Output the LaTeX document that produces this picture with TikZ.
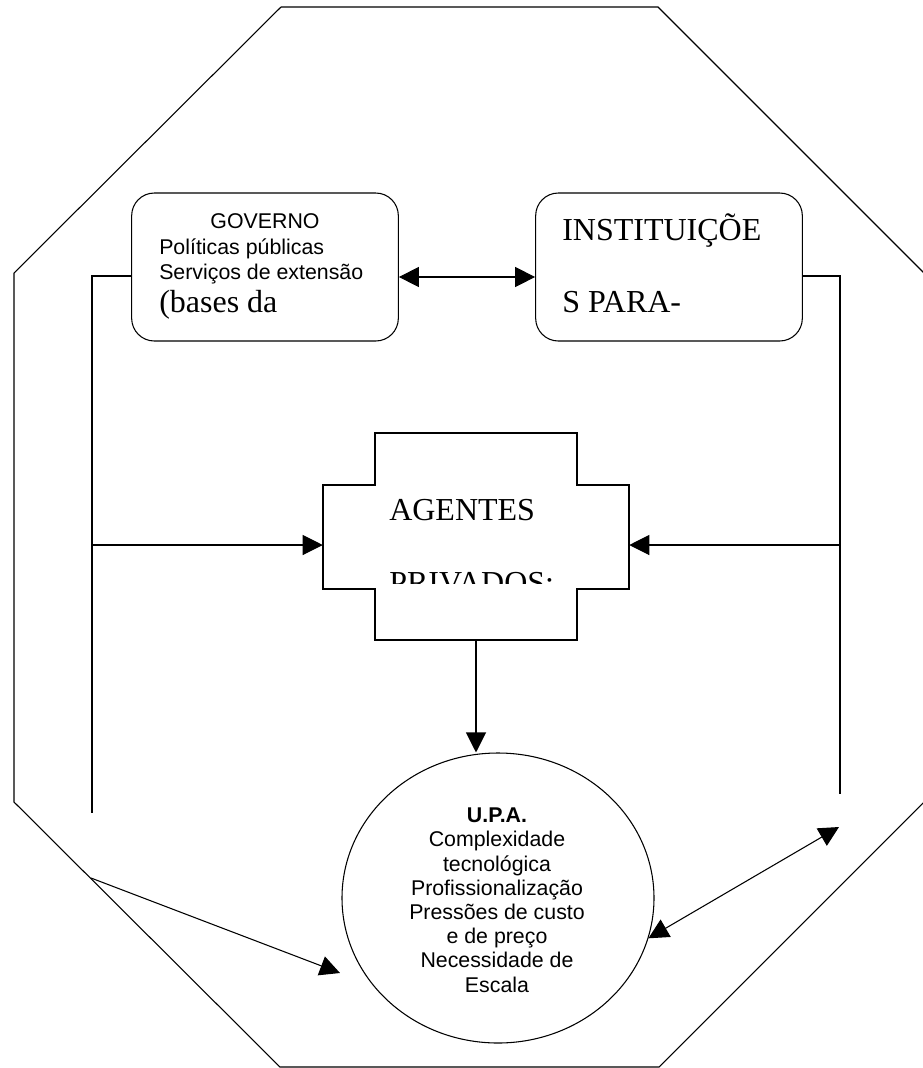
\documentclass[tikz,border=0pt]{standalone}
\usepackage{fontspec}
\setmainfont{Liberation Serif}
\newfontfamily\arialf{Liberation Sans}
\usetikzlibrary{arrows.meta}
\usetikzlibrary{shapes.geometric}
\tikzstyle{RoundBox}=[rectangle, rounded corners=17pt, draw=black, thick, minimum width=200pt, minimum height=111pt, inner sep=0pt]
\tikzstyle{UpaNode}=[ellipse, draw=black, thick, minimum width=234pt, minimum height=217.5pt, inner sep=0pt]
\tikzstyle{SansText}=[inner sep=0pt, font=\arialf\fontsize{16}{18.15}\selectfont]
\tikzstyle{SerifText}=[inner sep=0pt, anchor=base west, font=\fontsize{24}{28}\selectfont]
\tikzstyle{Line}=[thick]
\tikzstyle{OneWay}=[Line, -{Triangle[length=15pt,width=15pt]}]
\tikzstyle{TwoWay}=[Line, {Triangle[length=15pt,width=15pt]}-{Triangle[length=15pt,width=15pt]}]
\begin{document}
\begin{tikzpicture}[x=0.75pt,y=-0.75pt]
\useasboundingbox (0,0) rectangle (922,1068);

% outer octagon
\draw[Line] (281,7) -- (658,7) -- (924,273) -- (924,802) -- (659,1067) -- (280,1067) -- (14,802) -- (14,273) -- cycle;

\node[RoundBox](gov) at (265,267) {};
\node[RoundBox](inst) at (669,267) {};
\node[inner sep=0pt, minimum width=229.5pt, minimum height=155.25pt](agentes) at (476,536.5) {};
\node[UpaNode](upa) at (498,898) {};

% cross shape
\draw[Line] (375,433) -- (577,433) -- (577,485) -- (629,485) -- (629,589) -- (577,589) -- (577,640) -- (375,640) -- (375,589) -- (323,589) -- (323,485) -- (375,485) -- cycle;

% texts
\node[SansText, anchor=base](govtitle) at (265,228) {GOVERNO};
\node[SansText, anchor=base west, align=left](govtext) at (159,279) {Políticas públicas\\Serviços de extensão};
\node[SerifText](govbase) at (159,312) {(bases da};
\node[SerifText](insttop) at (562,240) {INSTITUIÇÕE};
\node[SerifText](instbot) at (562,312) {S PARA-};
\node[SerifText](agtop) at (389,520) {AGENTES};
\begin{scope}
\clip (323,433) rectangle (629,583);
\node[SerifText](agbot) at (389,593) {PRIVADOS:};
\end{scope}
\begin{scope}
\clip (330,740) rectangle (670,993);
\node[SansText, anchor=base, align=center](upatext) at (497,992) {\textbf{U.P.A.}\\Complexidade\\tecnológica\\Profissionalização\\Pressões de custo\\e de preço\\Necessidade de\\Escala};
\end{scope}

\coordinate (lbot) at (92,813);
\coordinate (rbot) at (840,794);
\coordinate (lmid) at (92,545);
\coordinate (rmid) at (840,545);
\coordinate (ldiag) at (91,878);
\coordinate (ltip) at (340,973);
\coordinate (rdiag) at (839,827);

\draw[TwoWay]([yshift=-7.5pt]gov.east) -- ([yshift=-7.5pt]inst.west);
\draw[Line]([yshift=-6.75pt]gov.west) -| (lbot);
\draw[Line]([yshift=-6.75pt]inst.east) -| (rbot);
\draw[OneWay](lmid) -- (lmid -| agentes.west);
\draw[OneWay](rmid) -- (rmid -| agentes.east);
\draw[OneWay](agentes.south) -- (agentes.south |- upa.north);
\draw[OneWay](ldiag) -- (ltip);
\draw[TwoWay](upa.-15) -- (rdiag);
\end{tikzpicture}
\end{document}
